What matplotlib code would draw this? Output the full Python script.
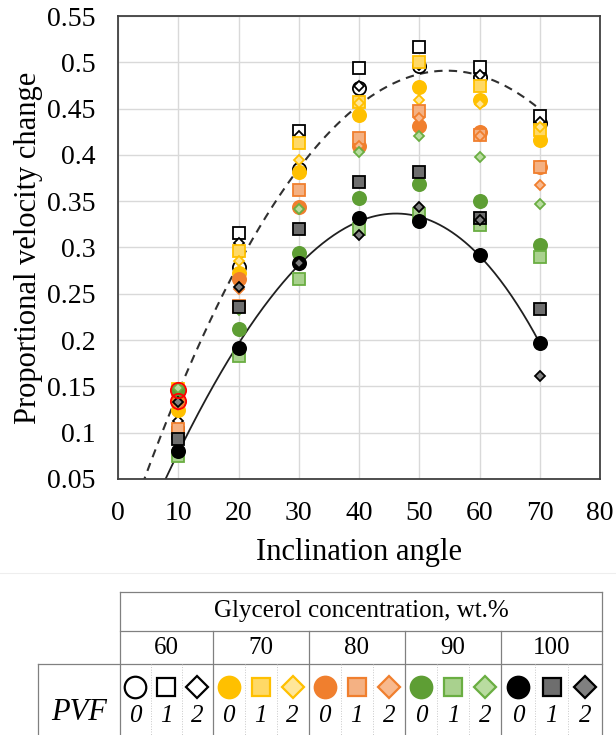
import numpy as np
import matplotlib
matplotlib.use('Agg')
import matplotlib.pyplot as plt

plt.rcParams['font.family'] = ['Liberation Serif', 'DejaVu Serif']

# inclination angles (deg)
angles = [10, 20, 30, 40, 50, 60, 70]

# proportional velocity change, one list per glycerol wt.% and PVF
g60_pvf0 = [0.133, 0.279, 0.385, 0.472, 0.496, 0.484, 0.434]
g60_pvf1 = [0.100, 0.316, 0.426, 0.494, 0.516, 0.495, 0.442]
g60_pvf2 = [0.113, 0.305, 0.420, 0.474, 0.497, 0.486, 0.436]
g70_pvf0 = [0.124, 0.272, 0.382, 0.443, 0.473, 0.459, 0.416]
g70_pvf1 = [0.147, 0.296, 0.413, 0.457, 0.500, 0.474, 0.427]
g70_pvf2 = [0.140, 0.285, 0.395, 0.456, 0.459, 0.455, 0.430]
g80_pvf0 = [0.135, 0.266, 0.344, 0.410, 0.431, 0.425, 0.387]
g80_pvf1 = [0.104, 0.237, 0.362, 0.418, 0.447, 0.421, 0.387]
g80_pvf2 = [0.130, 0.255, 0.344, 0.410, 0.440, 0.420, 0.367]
g90_pvf0 = [0.145, 0.212, 0.294, 0.353, 0.369, 0.350, 0.303]
g90_pvf1 = [0.075, 0.183, 0.266, 0.320, 0.336, 0.324, 0.290]
g90_pvf2 = [0.148, 0.232, 0.342, 0.403, 0.420, 0.398, 0.347]
g100_pvf0 = [0.080, 0.192, 0.283, 0.332, 0.329, 0.292, 0.197]
g100_pvf1 = [0.093, 0.236, 0.320, 0.371, 0.381, 0.332, 0.234]
g100_pvf2 = [0.133, 0.257, 0.283, 0.314, 0.344, 0.330, 0.161]

# circled points at 10 deg
marked_angle = [10, 10]
marked_values = [0.146, 0.134]

# trend curves: dashed quadratic, solid = cubic fit of 100 wt.% PVF 0
dashed_coef = [-0.000175, 0.0191, -0.0302]
solid_fit_degree = 3

concentrations = ['60', '70', '80', '90', '100']
pvf_labels = ['0', '1', '2']
x_ticks = [0, 10, 20, 30, 40, 50, 60, 70, 80]
y_ticks = [0.05, 0.1, 0.15, 0.2, 0.25, 0.3, 0.35, 0.4, 0.45, 0.5, 0.55]
y_tick_labels = ['0.05', '0.1', '0.15', '0.2', '0.25', '0.3', '0.35', '0.4',
                 '0.45', '0.5', '0.55']

series = [
    [g60_pvf0, g60_pvf1, g60_pvf2],
    [g70_pvf0, g70_pvf1, g70_pvf2],
    [g80_pvf0, g80_pvf1, g80_pvf2],
    [g90_pvf0, g90_pvf1, g90_pvf2],
    [g100_pvf0, g100_pvf1, g100_pvf2],
]

# (face, edge) for circle / square / diamond of each concentration
styles = [
    [('white', 'black'), ('white', 'black'), ('white', 'black')],
    [('#FFC000', '#FFC000'), ('#FFD966', '#FFC000'), ('#FFE699', '#FFC000')],
    [('#F07F2E', '#F07F2E'), ('#F4B183', '#F07F2E'), ('#F8B98E', '#F07F2E')],
    [('#5E9E34', '#5E9E34'), ('#A9D18E', '#6AAE42'), ('#B9DCA0', '#6AAE42')],
    [('black', 'black'), ('#6E6E6E', 'black'), ('#808080', 'black')],
]
shapes = ['o', 's', 'D']
plot_ms = [9.5, 8.5, 5.5]
legend_ms = [15.5, 13, 11.5]

W, H = 616, 735
fig = plt.figure(figsize=(W / 100, H / 100), dpi=100)

# ---- legend table, drawn in pixel space ----
tab = fig.add_axes([0, 0, 1, 1])
tab.set_xlim(0, W)
tab.set_ylim(H, 0)
tab.axis('off')

col_edges = [120, 212.7, 308.5, 405, 501, 602]
row_top, row_mid, row_low = 592.3, 631, 664
left_cell = 38.3
lc = '#808080'
lw = 0.9

tab.plot([0, W], [573, 573], color='#eeeeee', lw=0.8)
tab.plot([col_edges[0], col_edges[-1]], [row_top, row_top], color=lc, lw=lw)
tab.plot([col_edges[0], col_edges[-1]], [row_mid, row_mid], color=lc, lw=lw)
tab.plot([left_cell, col_edges[-1]], [row_low, row_low], color=lc, lw=lw)
tab.plot([left_cell, left_cell], [row_low, H], color=lc, lw=lw)
for i, xe in enumerate(col_edges):
    y0 = row_top if i in (0, len(col_edges) - 1) else row_mid
    tab.plot([xe, xe], [y0, H], color=lc, lw=lw)

tab.text((col_edges[0] + col_edges[-1]) / 2, 611.5, 'Glycerol concentration, wt.%',
         ha='center', va='center', fontsize=18)
tab.text((left_cell + col_edges[0]) / 2, 713, 'PVF', ha='center', va='center',
         fontsize=22, style='italic')

for c, conc in enumerate(concentrations):
    x0, x1 = col_edges[c], col_edges[c + 1]
    tab.text((x0 + x1) / 2, 648, conc, ha='center', va='center', fontsize=18)
    step = (x1 - x0) / 3
    for k in (1, 2):
        tab.plot([x0 + k * step] * 2, [row_low, H], color='#c8c8c8', lw=0.7, ls=':')
    for p in range(3):
        xc = x0 + (p + 0.5) * step
        face, edge = styles[c][p]
        tab.plot([xc], [686.5], marker=shapes[p], ms=legend_ms[p], mfc=face,
                 mec=edge, mew=1.6, ls='none')
        tab.text(xc, 716, pvf_labels[p], ha='center', va='center', fontsize=18,
                 style='italic')

# ---- main chart ----
ax = fig.add_axes([118 / W, 1 - 479 / H, 482 / W, 463 / H])
ax.set_xlim(0, 80)
ax.set_ylim(0.05, 0.55)
ax.set_xticks(x_ticks)
ax.set_yticks(y_ticks)
ax.set_yticklabels(y_tick_labels)
ax.tick_params(length=0, labelsize=20)
ax.tick_params(axis='x', pad=15.5)
ax.tick_params(axis='y', pad=16)
ax.grid(color='#d9d9d9', lw=1)
ax.set_axisbelow(True)
for s in ax.spines.values():
    s.set_color('#404040')
    s.set_linewidth(1.3)

xs = np.linspace(0, 70, 300)
ax.plot(xs, np.polyval(dashed_coef, xs), color='#303030', lw=1.5, ls=(0, (4, 3)))
solid_coef = np.polyfit(angles, g100_pvf0, solid_fit_degree)
ax.plot(xs, np.polyval(solid_coef, xs), color='#202020', lw=1.3)

for c in range(len(concentrations)):
    for p in range(3):
        face, edge = styles[c][p]
        ax.plot(angles, series[c][p], marker=shapes[p], ms=plot_ms[p], mfc=face,
                mec=edge, mew=1.3, ls='none')

ax.plot(marked_angle, marked_values, marker='o', ms=11, mfc='none', mec='red',
        mew=1.3, ls='none')

ax.set_xlabel('Inclination angle', fontsize=22, labelpad=9)
ax.set_ylabel('Proportional velocity change', fontsize=22, labelpad=3)

fig.savefig('out.png', dpi=100)
